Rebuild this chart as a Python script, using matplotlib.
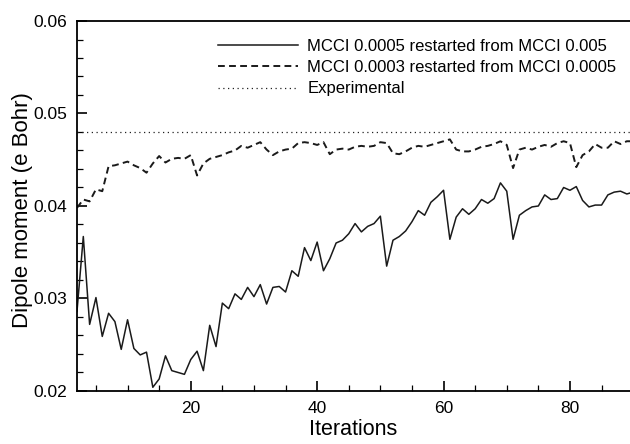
import numpy as np
from matplotlib import pyplot as plt
from matplotlib.ticker import MultipleLocator, FormatStrFormatter

# iteration numbers
iters = np.arange(2, 91)

# MCCI 0.0005 restarted from MCCI 0.005 (solid)
mcci_0005 = [0.0286, 0.0367, 0.0272, 0.0301, 0.0259, 0.0284, 0.0275, 0.0245, 0.0277,
             0.0246, 0.0239, 0.0242, 0.0204, 0.0213, 0.0238, 0.0222, 0.0220, 0.0218,
             0.0234, 0.0243, 0.0222, 0.0271, 0.0248, 0.0295, 0.0289, 0.0305, 0.0299,
             0.0312, 0.0302, 0.0315, 0.0294, 0.0312, 0.0313, 0.0307, 0.0330, 0.0324,
             0.0355, 0.0341, 0.0361, 0.0330, 0.0343, 0.0360, 0.0363, 0.0370, 0.0381,
             0.0372, 0.0378, 0.0381, 0.0389, 0.0335, 0.0363, 0.0367, 0.0373, 0.0383,
             0.0395, 0.0390, 0.0404, 0.0410, 0.0417, 0.0364, 0.0388, 0.0397, 0.0391,
             0.0397, 0.0407, 0.0403, 0.0408, 0.0425, 0.0416, 0.0364, 0.0390, 0.0395,
             0.0399, 0.0400, 0.0412, 0.0407, 0.0408, 0.0420, 0.0417, 0.0421, 0.0406,
             0.0399, 0.0401, 0.0401, 0.0412, 0.0415, 0.0416, 0.0413, 0.0415]

# MCCI 0.0003 restarted from MCCI 0.0005 (dashed)
mcci_0003 = [0.0398, 0.0407, 0.0405, 0.0418, 0.0416, 0.0443, 0.0444, 0.0446, 0.0448,
             0.0444, 0.0441, 0.0436, 0.0446, 0.0454, 0.0447, 0.0451, 0.0452, 0.0451,
             0.0455, 0.0433, 0.0446, 0.0451, 0.0453, 0.0455, 0.0458, 0.0460, 0.0465,
             0.0463, 0.0466, 0.0469, 0.0461, 0.0455, 0.0459, 0.0461, 0.0462, 0.0468,
             0.0469, 0.0468, 0.0466, 0.0469, 0.0456, 0.0461, 0.0462, 0.0461, 0.0464,
             0.0465, 0.0464, 0.0465, 0.0469, 0.0468, 0.0457, 0.0456, 0.0459, 0.0463,
             0.0465, 0.0464, 0.0466, 0.0468, 0.0470, 0.0472, 0.0461, 0.0459, 0.0459,
             0.0461, 0.0464, 0.0465, 0.0467, 0.0470, 0.0466, 0.0441, 0.0461, 0.0463,
             0.0461, 0.0464, 0.0466, 0.0464, 0.0468, 0.0470, 0.0468, 0.0442, 0.0455,
             0.0459, 0.0467, 0.0463, 0.0463, 0.0470, 0.0467, 0.0470, 0.0470]

experimental = 0.048

plt.rcParams['font.family'] = ['Liberation Sans', 'DejaVu Sans']
fig = plt.figure(figsize=(6.3, 4.44), dpi=100)
ax = fig.add_axes([0.1222, 0.1194, 0.8778, 0.8333])

ax.plot(iters, mcci_0005, color='#1a1a1a', lw=1.1, label='MCCI 0.0005 restarted from MCCI 0.005')
ax.plot(iters, mcci_0003, color='#1a1a1a', lw=1.4, dashes=(3.5, 2.2),
        label='MCCI 0.0003 restarted from MCCI 0.0005')
ax.axhline(experimental, color='#222222', lw=0.9, dashes=(1.0, 2.8), label='Experimental')

ax.set_xlim(2, 89.5)
ax.set_ylim(0.02, 0.06)
ax.xaxis.set_major_locator(MultipleLocator(20))
ax.xaxis.set_minor_locator(MultipleLocator(5))
ax.yaxis.set_major_locator(MultipleLocator(0.01))
ax.yaxis.set_minor_locator(MultipleLocator(0.002))
ax.yaxis.set_major_formatter(FormatStrFormatter('%.2f'))
ax.tick_params(which='both', direction='in', labelsize=12.5, width=1.2, pad=7)
ax.tick_params(which='major', length=7)
ax.tick_params(which='minor', length=4, width=0.9)
ax.spines['right'].set_visible(False)
for s in ['left', 'bottom', 'top']:
    ax.spines[s].set_linewidth(1.3)

ax.set_xlabel('Iterations', fontsize=15.5)
ax.set_ylabel('Dipole moment (e Bohr)', fontsize=16)
ax.xaxis.set_label_coords(0.5, -0.075)
ax.yaxis.set_label_coords(-0.079, 0.49)

ax.legend(loc='upper left', bbox_to_anchor=(0.255, 0.952), frameon=False,
          fontsize=12, handlelength=4.8, handletextpad=0.55, labelspacing=0.38,
          borderpad=0, borderaxespad=0)

plt.savefig('out.png', dpi=100)
